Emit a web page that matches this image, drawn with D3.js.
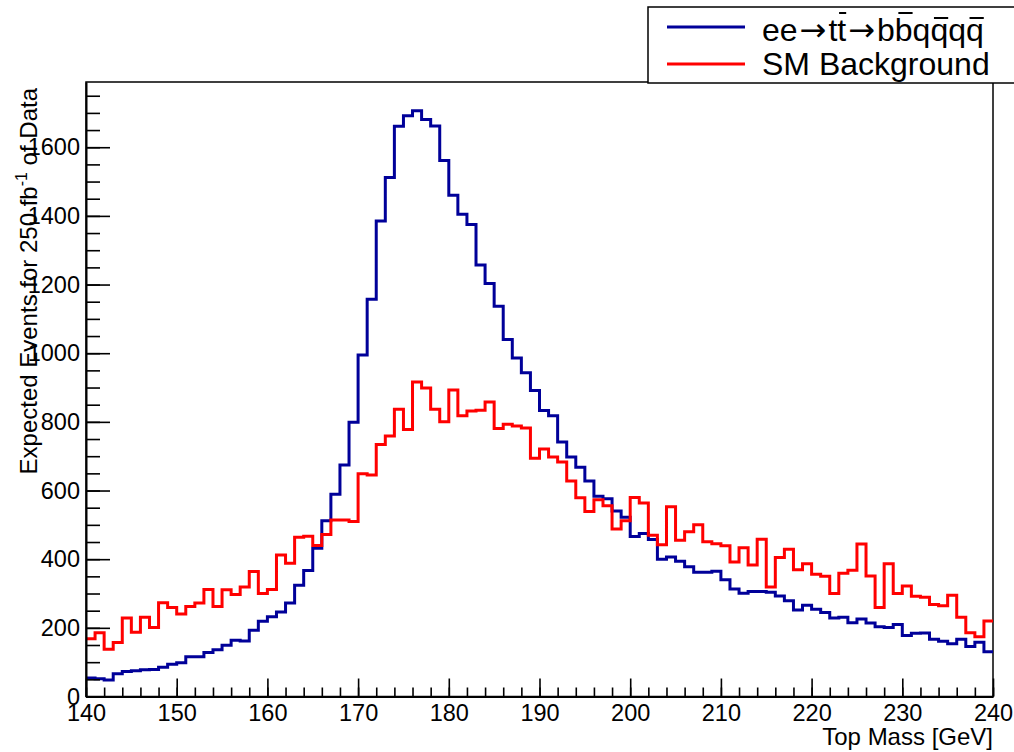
<!DOCTYPE html>
<meta charset="utf-8" />
<style>
    body { margin: 0; background: #fff; }
    svg text { font-family: "Liberation Sans", Arial, Helvetica, sans-serif; fill: #000; }
</style>
<title>Top Mass</title>
<body></body>
<script src="https://d3js.org/d3.v7.min.js"></script>
<script>

    // bin edges of the histogram, 1 GeV bins from 140 to 240
    var binEdges = d3.range(140, 241, 1);

    // ee -> ttbar -> bbqqqq  (signal), one value per bin
    var signal = [
        54, 52, 48, 66, 73, 75, 78, 79, 85, 94,
        98, 116, 116, 128, 136, 149, 164, 162, 193, 219,
        232, 246, 272, 324, 367, 432, 512, 589, 674, 799,
        995, 1157, 1385, 1512, 1661, 1692, 1706, 1681, 1662, 1561,
        1460, 1405, 1375, 1257, 1203, 1137, 1040, 986, 943, 891,
        833, 818, 741, 698, 668, 628, 583, 576, 540, 522,
        466, 475, 457, 400, 406, 394, 378, 362, 362, 365,
        340, 313, 301, 306, 306, 304, 293, 279, 252, 266,
        254, 245, 229, 231, 215, 226, 214, 203, 201, 210,
        178, 184, 185, 167, 161, 154, 167, 146, 158, 130
    ];

    // SM background, one value per bin
    var background = [
        168, 186, 138, 157, 229, 187, 231, 201, 273, 259,
        240, 262, 272, 312, 262, 311, 297, 319, 364, 300,
        312, 412, 388, 464, 467, 440, 472, 514, 514, 510,
        649, 645, 734, 759, 837, 778, 916, 899, 837, 800,
        893, 818, 832, 834, 858, 781, 793, 788, 782, 694,
        721, 698, 683, 628, 579, 539, 573, 556, 488, 512,
        580, 564, 470, 442, 553, 455, 480, 500, 451, 445,
        439, 392, 433, 383, 458, 319, 405, 429, 369, 387,
        356, 350, 300, 359, 368, 444, 351, 259, 387, 300,
        322, 292, 289, 268, 264, 295, 231, 186, 174, 220
    ];

    var xMajorTicks = d3.range(140, 241, 10);
    var xMinorTicks = d3.range(140, 241, 2);
    var yMajorTicks = d3.range(0, 1601, 200);
    var yMinorTicks = d3.range(0, 1751, 50);

    var svgWidth = 1014;
    var svgHeight = 752;
    var frame = {left: 86, right: 993, top: 82, bottom: 696.5};

    var svg = d3.select("body")
        .append("svg")
        .attr("width", svgWidth)
        .attr("height", svgHeight)
        .style("background", "#fff");

    // scales
    var x = d3.scaleLinear()
        .domain([140, 240])
        .range([frame.left, frame.right]);

    var y = d3.scaleLinear()
        .domain([0, 1790])
        .range([frame.bottom, frame.top]);

    // frame box
    svg.append("rect")
        .attr("x", frame.left)
        .attr("y", frame.top)
        .attr("width", frame.right - frame.left)
        .attr("height", frame.bottom - frame.top)
        .attr("fill", "none")
        .attr("stroke", "#000")
        .attr("stroke-width", 1.5);

    // histograms as step lines
    var step = d3.line()
        .x(function (d) { return x(d[0]); })
        .y(function (d) { return y(d[1]); })
        .curve(d3.curveStepAfter);

    function stepPoints(values) {
        var pts = values.map(function (v, i) { return [binEdges[i], v]; });
        pts.push([binEdges[values.length], values[values.length - 1]]);
        return pts;
    }

    svg.append("path")
        .attr("d", step(stepPoints(signal)))
        .attr("fill", "none")
        .attr("stroke", "#000099")
        .attr("stroke-width", 3);

    svg.append("path")
        .attr("d", step(stepPoints(background)))
        .attr("fill", "none")
        .attr("stroke", "#ff0000")
        .attr("stroke-width", 3);

    // x axis (ticks point inward like ROOT)
    var gxMinor = svg.append("g")
        .attr("transform", "translate(0," + frame.bottom + ")")
        .call(d3.axisBottom(x).tickValues(xMinorTicks).tickSize(-9).tickFormat(""));
    gxMinor.select(".domain").remove();

    var gx = svg.append("g")
        .attr("transform", "translate(0," + frame.bottom + ")")
        .call(d3.axisBottom(x).tickValues(xMajorTicks).tickSize(-18).tickSizeOuter(0).tickPadding(8).tickFormat(d3.format("d")));

    // y axis
    var gyMinor = svg.append("g")
        .attr("transform", "translate(" + frame.left + ",0)")
        .call(d3.axisLeft(y).tickValues(yMinorTicks).tickSize(-14).tickFormat(""));
    gyMinor.select(".domain").remove();

    var gy = svg.append("g")
        .attr("transform", "translate(" + frame.left + ",0)")
        .call(d3.axisLeft(y).tickValues(yMajorTicks).tickSize(-24).tickSizeOuter(0).tickPadding(6).tickFormat(d3.format("d")));

    svg.selectAll(".tick line").attr("stroke", "#000").attr("stroke-width", 1.6);
    svg.selectAll(".domain").attr("stroke", "#000").attr("stroke-width", 2);
    svg.selectAll(".tick text")
        .style("font-size", "23.5px")
        .style("font-family", "'Liberation Sans', Arial, sans-serif")
        .attr("fill", "#000");

    // axis titles
    svg.append("text")
        .attr("x", frame.right)
        .attr("y", 745)
        .attr("text-anchor", "end")
        .style("font-size", "24px")
        .text("Top Mass [GeV]");

    var yTitle = svg.append("text")
        .attr("transform", "translate(37," + (frame.top + 6) + ") rotate(-90)")
        .attr("text-anchor", "end")
        .style("font-size", "24px");
    yTitle.append("tspan").text("Expected Events for 250 fb");
    yTitle.append("tspan").attr("dy", -10).style("font-size", "16px").text("-1");
    yTitle.append("tspan").attr("dy", 10).text(" of Data");

    // legend
    var legend = svg.append("g");
    legend.append("rect")
        .attr("x", 648)
        .attr("y", 7)
        .attr("width", 420)
        .attr("height", 76)
        .attr("fill", "#fff")
        .attr("stroke", "#000")
        .attr("stroke-width", 1.5);

    var entries = [
        {parts: ["ee", "\u2192", "tt", "\u2192", "bbqqqq"], color: "#000099", lineY: 27, textY: 41,
         bars: [[2, 1], [4, 1], [4, 3], [4, 5]]},
        {parts: ["SM Background"], color: "#ff0000", lineY: 64, textY: 75, bars: []}
    ];

    entries.forEach(function (e) {
        legend.append("line")
            .attr("x1", 667).attr("x2", 745)
            .attr("y1", e.lineY).attr("y2", e.lineY)
            .attr("stroke", e.color)
            .attr("stroke-width", 3);
        var t = legend.append("text")
            .attr("x", 762)
            .attr("y", e.textY)
            .style("font-size", "32px");
        var spans = e.parts.map(function (p, k) {
            var s = t.append("tspan").text(p);
            if (p === "\u2192") {
                s.style("font-family", "'DejaVu Sans', sans-serif").style("font-size", "32px").attr("dx", 2);
            } else if (k > 0) {
                s.attr("dx", 2);
            }
            return s;
        });
        // overbars for the antiparticles: [part, char index]
        e.bars.forEach(function (b) {
            var node = spans[b[0]].node();
            var ext = node.getExtentOfChar(b[1]);
            var ch = e.parts[b[0]].charAt(b[1]);
            var lift = (ch === "q") ? 23 : 28;
            legend.append("line")
                .attr("x1", ext.x + ext.width * 0.2)
                .attr("x2", ext.x + ext.width * 1.0)
                .attr("y1", e.textY - lift)
                .attr("y2", e.textY - lift)
                .attr("stroke", "#000")
                .attr("stroke-width", 2);
        });
    });

</script>
